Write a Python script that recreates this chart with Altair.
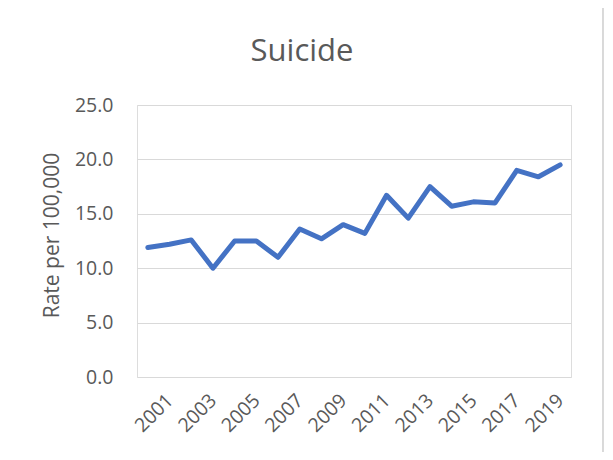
import altair as alt
import pandas as pd

years = [str(y) for y in range(2000, 2020)]
rates = [11.9, 12.2, 12.6, 10.0, 12.5, 12.5, 11.0, 13.6, 12.7, 14.0,
         13.2, 16.7, 14.6, 17.5, 15.7, 16.1, 16.0, 19.0, 18.4, 19.5]
label_years = [y for y in years if int(y) % 2 == 1]
y_ticks = [0, 5, 10, 15, 20, 25]
chart_title = ["Suicide"]

df = pd.DataFrame({"year": years, "rate": rates})

FONT = "Open Sans"
GREY = "#595959"

line = alt.Chart(df).mark_line(
    color="#4472C4", strokeWidth=5, strokeCap="round", strokeJoin="round"
).encode(
    x=alt.X("year:O", sort=None,
            scale=alt.Scale(type="point", padding=0.5),
            axis=alt.Axis(values=label_years, labelAngle=-45, labelAlign="right",
                          labelBaseline="middle", labelPadding=20, ticks=False,
                          domain=False, title=None, labelFont=FONT,
                          labelFontSize=19.5, labelColor=GREY, grid=False)),
    y=alt.Y("rate:Q", scale=alt.Scale(domain=[0, 25], nice=False, zero=True),
            axis=alt.Axis(values=y_ticks, format=".1f", ticks=False, domain=False,
                          labelFont=FONT, labelFontSize=19.5, labelColor=GREY,
                          labelPadding=24, gridColor="#d9d9d9", gridWidth=1,
                          title="Rate per 100,000", titleFont=FONT,
                          titleFontSize=21, titleFontWeight="normal",
                          titleColor=GREY, titleX=-85, titleY=130,
                          titleAlign="center", titleBaseline="middle",
                          titleAngle=270))
)

title = alt.Chart(pd.DataFrame({"t": chart_title})).mark_text(
    font=FONT, fontSize=31, color=GREY, align="center", baseline="alphabetic"
).encode(text="t:N", x=alt.value(165), y=alt.value(-44))

top_border = alt.Chart(df).mark_rule(color="#d9d9d9", strokeWidth=1).encode(
    x=alt.value(-137), x2=alt.value(466), y=alt.value(-100)
)
right_border = alt.Chart(df).mark_rule(color="#d9d9d9", strokeWidth=1).encode(
    x=alt.value(466), y=alt.value(-100), y2=alt.value(360)
)

chart = alt.layer(top_border, right_border, title, line).properties(
    width=434, height=272,
    autosize=alt.AutoSizeParams(type="none"),
    padding={"left": 129, "top": 97, "right": 34, "bottom": 75},
).configure_view(stroke=None).configure(background="white")

chart.save("out.html", embed_options={"renderer": "svg", "actions": False})
